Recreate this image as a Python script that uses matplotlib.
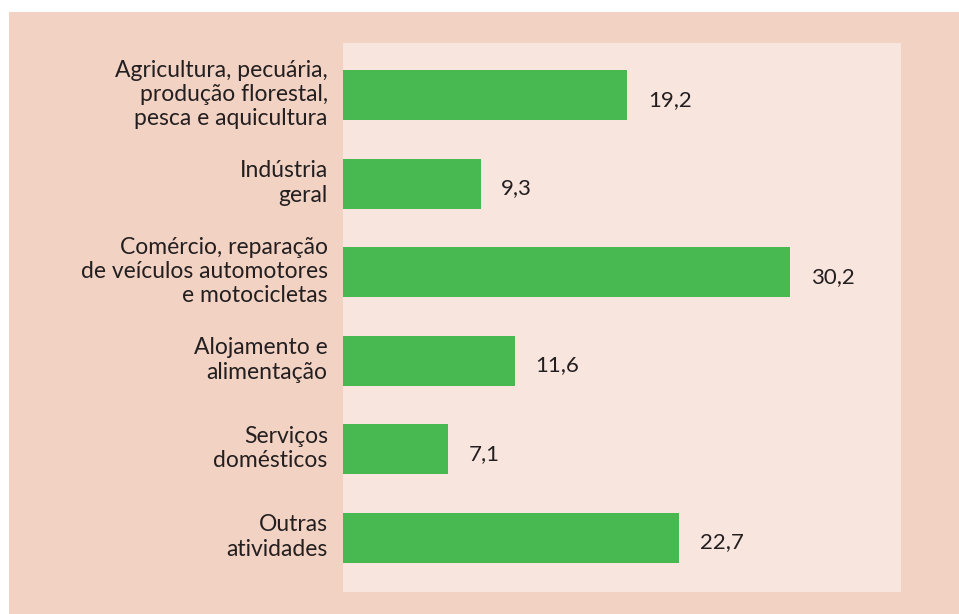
import matplotlib
matplotlib.use("Agg")
import matplotlib.pyplot as plt
from matplotlib.patches import Rectangle
from matplotlib.transforms import ScaledTranslation

# Data
categories = [
    "Agricultura, pecuária,\nprodução florestal,\npesca e aquicultura",
    "Indústria\ngeral",
    "Comércio, reparação\nde veículos automotores\ne motocicletas",
    "Alojamento e\nalimentação",
    "Serviços\ndomésticos",
    "Outras\natividades",
]
values = [19.2, 9.3, 30.2, 11.6, 7.1, 22.7]
value_labels = ["19,2", "9,3", "30,2", "11,6", "7,1", "22,7"]

plt.rcParams['font.family'] = ['Lato', 'DejaVu Sans']

W, H = 959, 614
fig = plt.figure(figsize=(W / 100, H / 100), dpi=100, facecolor="white")

# outer salmon frame (behind the axes)
fig.patches.append(Rectangle((9 / W, 0), 1 - 9 / W, (H - 12) / H,
                             transform=fig.transFigure, facecolor="#f2d2c3",
                             edgecolor="none", zorder=-10))

ax = fig.add_axes([343 / W, (H - 592) / H, (901 - 343) / W, (592 - 43) / H])
ax.set_zorder(1)
ax.set_facecolor("#f8e5de")

ypos = list(range(len(values)))
ax.barh(ypos, values, height=0.565, color="#48b851", edgecolor="none")

for y, v, lab in zip(ypos, values, value_labels):
    ax.text(v + 1.4, y + 0.05, lab, va="center", ha="left", fontsize=16,
            color="#231f20")

ax.set_xlim(0, 37.7)
ax.set_ylim(len(values) - 0.39, -0.59)
ax.set_xticks([])
ax.set_yticks(ypos)
ax.set_yticklabels(categories, fontsize=16.5, color="#231f20", linespacing=1.2)
ax.tick_params(axis="y", length=0, pad=11)
# nudge category labels up a little
shift = ScaledTranslation(0, 0.045, fig.dpi_scale_trans)
for t in ax.get_yticklabels():
    t.set_transform(t.get_transform() + shift)
for s in ax.spines.values():
    s.set_visible(False)

fig.savefig("out.png", dpi=100, facecolor="white")
